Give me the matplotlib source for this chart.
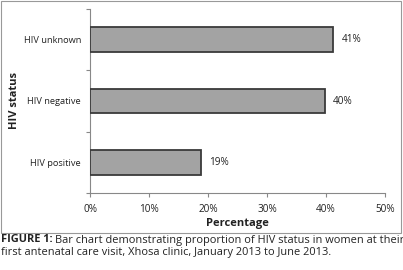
import matplotlib
matplotlib.use("Agg")
import matplotlib.pyplot as plt
from matplotlib.patches import Rectangle

categories = ["HIV positive", "HIV negative", "HIV unknown"]
values = [18.8, 39.8, 41.2]
value_labels = ["19%", "40%", "41%"]
xticks = [0, 10, 20, 30, 40, 50]
xtick_labels = ["0%", "10%", "20%", "30%", "40%", "50%"]

plt.rcParams['font.family'] = ['Open Sans', 'DejaVu Sans']
txt = '#222222'

fig = plt.figure(figsize=(4.03, 2.70), dpi=100)
ax = fig.add_axes([90/403, 1-193/270, (385-90)/403, (193-9)/270])

ypos = list(range(len(categories)))
ax.barh(ypos, values, height=0.4, color='#a3a3a3', edgecolor='#3a3a3a', linewidth=1.3, zorder=3)
for y, v, lab in zip(ypos, values, value_labels):
    ax.text(v + 1.4, y, lab, ha='left', va='center', fontsize=7.2, color=txt)

ax.set_xlim(0, 50)
ax.set_ylim(-0.5, 2.5)
ax.set_xticks(xticks)
ax.set_xticklabels(xtick_labels, fontsize=7.2, color=txt)
ax.set_yticks([-0.5, 0.5, 1.5, 2.5])
ax.set_yticklabels([])
ax.set_yticks(ypos, minor=True)
ax.set_yticklabels(categories, minor=True, fontsize=6.7, color=txt)
ax.tick_params(axis='y', which='minor', length=0, pad=6.5)
ax.tick_params(axis='y', which='major', length=3, color='#888888', width=0.8)
ax.tick_params(axis='x', length=3, color='#888888', width=0.8, pad=5)
for s in ['top', 'right']:
    ax.spines[s].set_visible(False)
for s in ['left', 'bottom']:
    ax.spines[s].set_color('#888888')
    ax.spines[s].set_linewidth(0.8)

ax.set_xlabel("Percentage", fontsize=8, fontweight='bold', color=txt, labelpad=2)
fig.text(15/403, 1-101/270, "HIV status", rotation=90, ha='center', va='center',
         fontsize=8, fontweight='bold', color=txt)

# border
fig.patches.append(Rectangle((1/403, 1-233/270), 400/403, 232/270, transform=fig.transFigure,
                             fill=False, edgecolor='#999999', linewidth=0.8))

# caption
fig.canvas.draw()
r = fig.canvas.get_renderer()
t1 = fig.text(0.002, 1-240/270, "FIGURE 1:", fontsize=7.9, fontweight='bold', color=txt, va='center')
bb = t1.get_window_extent(renderer=r)
fig.text(bb.x1/403 + 0.006, 1-240/270, "Bar chart demonstrating proportion of HIV status in women at their",
         fontsize=7.9, color=txt, va='center')
fig.text(0.002, 1-253/270, "first antenatal care visit, Xhosa clinic, January 2013 to June 2013.",
         fontsize=7.9, color=txt, va='center')

fig.savefig("out.png", dpi=100)
